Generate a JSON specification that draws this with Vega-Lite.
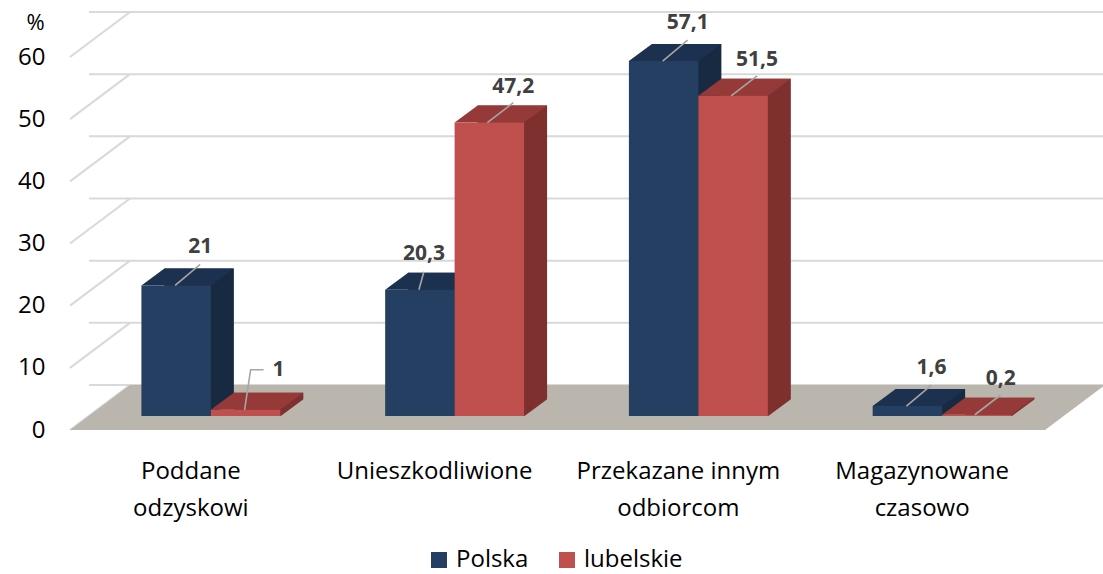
{
  "$schema": "https://vega.github.io/schema/vega-lite/v6.json",
  "width": 975,
  "height": 373,
  "autosize": "none",
  "padding": {"left": 89, "top": 43, "right": 39, "bottom": 158},
  "datasets": {
    "dane": [
      {"kategoria": "Poddane odzyskowi", "seria": "Polska", "wartosc": 21},
      {"kategoria": "Poddane odzyskowi", "seria": "lubelskie", "wartosc": 1},
      {"kategoria": "Unieszkodliwione", "seria": "Polska", "wartosc": 20.3},
      {"kategoria": "Unieszkodliwione", "seria": "lubelskie", "wartosc": 47.2},
      {"kategoria": "Przekazane innym odbiorcom", "seria": "Polska", "wartosc": 57.1},
      {"kategoria": "Przekazane innym odbiorcom", "seria": "lubelskie", "wartosc": 51.5},
      {"kategoria": "Magazynowane czasowo", "seria": "Polska", "wartosc": 1.6},
      {"kategoria": "Magazynowane czasowo", "seria": "lubelskie", "wartosc": 0.2}
    ],
    "siatka": [{"v": 0}, {"v": 10}, {"v": 20}, {"v": 30}, {"v": 40}, {"v": 50}, {"v": 60}]
  },
  "data": {"name": "dane"},
  "layer": [
    {
      "data": {"name": "siatka"},
      "mark": {"type": "rule", "color": "#d9d9d9", "strokeWidth": 2, "yOffset": -31, "xOffset": 41, "x2Offset": 39},
      "encoding": {
        "y": {"field": "v", "type": "quantitative", "title": "%", "scale": {"domain": [0, 60], "nice": false}}
      }
    },
    {
      "data": {"name": "siatka"},
      "mark": {"type": "rule", "color": "#d9d9d9", "strokeWidth": 2, "xOffset": -19, "x2Offset": 41, "yOffset": 14, "y2Offset": -31},
      "encoding": {
        "x": {"value": 0},
        "x2": {"value": 0},
        "y": {"field": "v", "type": "quantitative", "title": "%"},
        "y2": {"field": "v"}
      }
    },
    {
      "data": {"values": [{"podloga": 0}]},
      "mark": {"type": "point", "filled": true, "opacity": 1, "color": "#bab6ae", "strokeWidth": 0, "size": 4000000,
        "shape": "M -0.5065 0.014 L 0.4685 0.014 L 0.5285 -0.031 L -0.4465 -0.031 Z"},
      "encoding": {
        "y": {"field": "podloga", "type": "quantitative", "title": "%"}
      }
    },
    {
      "transform": [{"filter": "datum.seria == 'Polska'"}],
      "mark": {"type": "bar", "color": "#182a42", "opacity": 1, "width": {"band": 0.5}, "xOffset": -11.73, "yOffset": -17, "y2Offset": 0.01},
      "encoding": {
        "x": {"field": "kategoria", "type": "nominal", "title": null, "sort": ["Poddane odzyskowi", "Unieszkodliwione", "Przekazane innym odbiorcom", "Magazynowane czasowo"], "scale": {"paddingInner": 0.43, "paddingOuter": 0.215}},
        "y": {"field": "wartosc", "type": "quantitative", "title": "%"},
        "y2": {"datum": 0}
      }
    },
    {
      "transform": [{"filter": "datum.seria == 'Polska'"}],
      "mark": {"type": "point", "filled": true, "opacity": 1, "color": "#bab6ae", "strokeWidth": 0, "size": 40000, "xOffset": -34.73,
        "shape": "M 0.345 0.005 L 0.585 0.005 L 0.585 -0.172 Z"},
      "encoding": {
        "x": {"field": "kategoria", "type": "nominal", "title": null, "sort": ["Poddane odzyskowi", "Unieszkodliwione", "Przekazane innym odbiorcom", "Magazynowane czasowo"]},
        "y": {"datum": 0, "type": "quantitative", "title": "%"}
      }
    },
    {
      "transform": [{"filter": "datum.seria == 'Polska'"}],
      "mark": {"type": "point", "filled": true, "opacity": 1, "color": "#1c3050", "strokeWidth": 0, "size": 40000, "xOffset": -34.73,
        "shape": "M -0.3475 0 L 0.3475 0 L 0.5775 -0.17 L -0.1175 -0.17 Z"},
      "encoding": {
        "x": {"field": "kategoria", "type": "nominal", "title": null, "sort": ["Poddane odzyskowi", "Unieszkodliwione", "Przekazane innym odbiorcom", "Magazynowane czasowo"]},
        "y": {"field": "wartosc", "type": "quantitative", "title": "%"}
      }
    },
    {
      "transform": [{"filter": "datum.seria == 'Polska'"}],
      "mark": {"type": "bar", "opacity": 1, "width": {"band": 0.5}, "xOffset": -34.73},
      "encoding": {
        "x": {"field": "kategoria", "type": "nominal", "title": null, "sort": ["Poddane odzyskowi", "Unieszkodliwione", "Przekazane innym odbiorcom", "Magazynowane czasowo"]},
        "y": {"field": "wartosc", "type": "quantitative", "title": "%"},
        "color": {"field": "seria", "type": "nominal", "title": null, "sort": ["Polska", "lubelskie"], "scale": {"domain": ["Polska", "lubelskie"], "range": ["#243f62", "#c0504d"]}}
      }
    },
    {
      "transform": [{"filter": "datum.seria == 'lubelskie'"}],
      "mark": {"type": "bar", "color": "#7d302e", "opacity": 1, "width": {"band": 0.5}, "xOffset": 57.73, "yOffset": -17, "y2Offset": 0.01},
      "encoding": {
        "x": {"field": "kategoria", "type": "nominal", "title": null, "sort": ["Poddane odzyskowi", "Unieszkodliwione", "Przekazane innym odbiorcom", "Magazynowane czasowo"]},
        "y": {"field": "wartosc", "type": "quantitative", "title": "%"},
        "y2": {"datum": 0}
      }
    },
    {
      "transform": [{"filter": "datum.seria == 'lubelskie'"}],
      "mark": {"type": "point", "filled": true, "opacity": 1, "color": "#bab6ae", "strokeWidth": 0, "size": 40000, "xOffset": 34.73,
        "shape": "M 0.345 0.005 L 0.585 0.005 L 0.585 -0.172 Z"},
      "encoding": {
        "x": {"field": "kategoria", "type": "nominal", "title": null, "sort": ["Poddane odzyskowi", "Unieszkodliwione", "Przekazane innym odbiorcom", "Magazynowane czasowo"]},
        "y": {"datum": 0, "type": "quantitative", "title": "%"}
      }
    },
    {
      "transform": [{"filter": "datum.seria == 'lubelskie'"}],
      "mark": {"type": "point", "filled": true, "opacity": 1, "color": "#953a38", "strokeWidth": 0, "size": 40000, "xOffset": 34.73,
        "shape": "M -0.3475 0 L 0.3475 0 L 0.5775 -0.17 L -0.1175 -0.17 Z"},
      "encoding": {
        "x": {"field": "kategoria", "type": "nominal", "title": null, "sort": ["Poddane odzyskowi", "Unieszkodliwione", "Przekazane innym odbiorcom", "Magazynowane czasowo"]},
        "y": {"field": "wartosc", "type": "quantitative", "title": "%"}
      }
    },
    {
      "transform": [{"filter": "datum.seria == 'lubelskie'"}],
      "mark": {"type": "bar", "opacity": 1, "width": {"band": 0.5}, "xOffset": 34.73},
      "encoding": {
        "x": {"field": "kategoria", "type": "nominal", "title": null, "sort": ["Poddane odzyskowi", "Unieszkodliwione", "Przekazane innym odbiorcom", "Magazynowane czasowo"]},
        "y": {"field": "wartosc", "type": "quantitative", "title": "%"},
        "color": {"field": "seria", "type": "nominal", "title": null, "sort": ["Polska", "lubelskie"]}
      }
    },
    {
      "transform": [{"filter": "datum.seria == 'Polska' && datum.kategoria != 'Unieszkodliwione'"}],
      "mark": {"type": "point", "filled": false, "opacity": 1, "color": "#a6a6a6", "strokeWidth": 1.6, "size": 40000, "xOffset": -34.73,
        "shape": "M -0.01 0 L 0.24 -0.21"},
      "encoding": {
        "x": {"field": "kategoria", "type": "nominal", "title": null, "sort": ["Poddane odzyskowi", "Unieszkodliwione", "Przekazane innym odbiorcom", "Magazynowane czasowo"]},
        "y": {"field": "wartosc", "type": "quantitative", "title": "%"}
      }
    },
    {
      "transform": [{"filter": "datum.seria == 'Polska' && datum.kategoria == 'Unieszkodliwione'"}],
      "mark": {"type": "point", "filled": false, "opacity": 1, "color": "#a6a6a6", "strokeWidth": 1.6, "size": 40000, "xOffset": -34.73,
        "shape": "M -0.01 0 L 0.04 -0.18"},
      "encoding": {
        "x": {"field": "kategoria", "type": "nominal", "title": null, "sort": ["Poddane odzyskowi", "Unieszkodliwione", "Przekazane innym odbiorcom", "Magazynowane czasowo"]},
        "y": {"field": "wartosc", "type": "quantitative", "title": "%"}
      }
    },
    {
      "transform": [{"filter": "datum.seria == 'lubelskie' && datum.kategoria != 'Poddane odzyskowi'"}],
      "mark": {"type": "point", "filled": false, "opacity": 1, "color": "#a6a6a6", "strokeWidth": 1.6, "size": 40000, "xOffset": 34.73,
        "shape": "M -0.02 0 L 0.24 -0.2"},
      "encoding": {
        "x": {"field": "kategoria", "type": "nominal", "title": null, "sort": ["Poddane odzyskowi", "Unieszkodliwione", "Przekazane innym odbiorcom", "Magazynowane czasowo"]},
        "y": {"field": "wartosc", "type": "quantitative", "title": "%"}
      }
    },
    {
      "transform": [{"filter": "datum.seria == 'lubelskie' && datum.kategoria == 'Poddane odzyskowi'"}],
      "mark": {"type": "point", "filled": false, "opacity": 1, "color": "#a6a6a6", "strokeWidth": 1.6, "size": 40000, "xOffset": 34.73,
        "shape": "M -0.01 0 L 0.05 -0.40 L 0.18 -0.40"},
      "encoding": {
        "x": {"field": "kategoria", "type": "nominal", "title": null, "sort": ["Poddane odzyskowi", "Unieszkodliwione", "Przekazane innym odbiorcom", "Magazynowane czasowo"]},
        "y": {"field": "wartosc", "type": "quantitative", "title": "%"}
      }
    },
    {
      "transform": [{"filter": "datum.seria == 'lubelskie' && datum.kategoria != 'Poddane odzyskowi'"}],
      "mark": {"type": "text", "dx": 58.73, "dy": -36, "fontSize": 21, "fontWeight": "bold", "color": "#404040", "font": "Open Sans"},
      "encoding": {
        "x": {"field": "kategoria", "type": "nominal", "title": null, "sort": ["Poddane odzyskowi", "Unieszkodliwione", "Przekazane innym odbiorcom", "Magazynowane czasowo"]},
        "y": {"field": "wartosc", "type": "quantitative", "title": "%"},
        "text": {"field": "wartosc", "type": "quantitative", "format": ".1~f"}
      }
    },
    {
      "transform": [{"filter": "datum.seria == 'lubelskie' && datum.kategoria == 'Poddane odzyskowi'"}],
      "mark": {"type": "text", "align": "left", "dx": 61.73, "dy": -40, "fontSize": 21, "fontWeight": "bold", "color": "#404040", "font": "Open Sans"},
      "encoding": {
        "x": {"field": "kategoria", "type": "nominal", "title": null, "sort": ["Poddane odzyskowi", "Unieszkodliwione", "Przekazane innym odbiorcom", "Magazynowane czasowo"]},
        "y": {"field": "wartosc", "type": "quantitative", "title": "%"},
        "text": {"field": "wartosc", "type": "quantitative", "format": ".1~f"}
      }
    },
    {
      "transform": [{"filter": "datum.seria == 'Polska' && datum.kategoria == 'Unieszkodliwione'"}],
      "mark": {"type": "text", "dx": -30.73, "dy": -36, "fontSize": 21, "fontWeight": "bold", "color": "#404040", "font": "Open Sans"},
      "encoding": {
        "x": {"field": "kategoria", "type": "nominal", "title": null, "sort": ["Poddane odzyskowi", "Unieszkodliwione", "Przekazane innym odbiorcom", "Magazynowane czasowo"]},
        "y": {"field": "wartosc", "type": "quantitative", "title": "%"},
        "text": {"field": "wartosc", "type": "quantitative", "format": ".1~f"}
      }
    },
    {
      "transform": [{"filter": "datum.seria == 'Polska' && datum.kategoria != 'Unieszkodliwione'"}],
      "mark": {"type": "text", "dx": -10.73, "dy": -38, "fontSize": 21, "fontWeight": "bold", "color": "#404040", "font": "Open Sans"},
      "encoding": {
        "x": {"field": "kategoria", "type": "nominal", "title": null, "sort": ["Poddane odzyskowi", "Unieszkodliwione", "Przekazane innym odbiorcom", "Magazynowane czasowo"],
          "axis": {"title": null, "domain": false, "ticks": false, "labelAngle": 0, "labelAlign": "center", "labelLimit": 0, "labelFontSize": 24, "labelFont": "Open Sans", "labelColor": "#000000", "labelOffset": -20, "labelPadding": 43, "labelLineHeight": 37, "labelBaseline": "top",
            "labelExpr": "datum.label == 'Przekazane innym odbiorcom' ? ['Przekazane innym', 'odbiorcom'] : split(datum.label, ' ')"}},
        "y": {"field": "wartosc", "type": "quantitative", "title": "%",
          "axis": {"title": "%", "titleAngle": 0, "titleX": -54, "titleY": -21, "titleAlign": "center", "titleBaseline": "middle", "titleFontSize": 22, "titleFontWeight": "normal", "titleFont": "Open Sans", "titleColor": "#000000",
            "values": [0, 10, 20, 30, 40, 50, 60], "labelFontSize": 24, "labelFont": "Open Sans", "labelColor": "#000000", "labelOffset": 14, "labelPadding": 44, "ticks": false, "domain": false, "grid": false}},
        "text": {"field": "wartosc", "type": "quantitative", "format": ".1~f"}
      }
    }
  ],
  "config": {
    "view": {"stroke": null},
    "font": "Open Sans",
    "axis": {"grid": false, "ticks": false, "domain": false},
    "locale": {"number": {"decimal": ",", "thousands": " ", "grouping": [3], "currency": ["", " zł"]}},
    "legend": {"orient": "none", "legendX": 338, "legendY": 505, "direction": "horizontal", "symbolType": "square", "symbolSize": 256, "symbolStrokeWidth": 0, "labelFontSize": 24, "labelFont": "Open Sans", "labelColor": "#000000", "columnPadding": 26, "labelOffset": 5}
  }
}
